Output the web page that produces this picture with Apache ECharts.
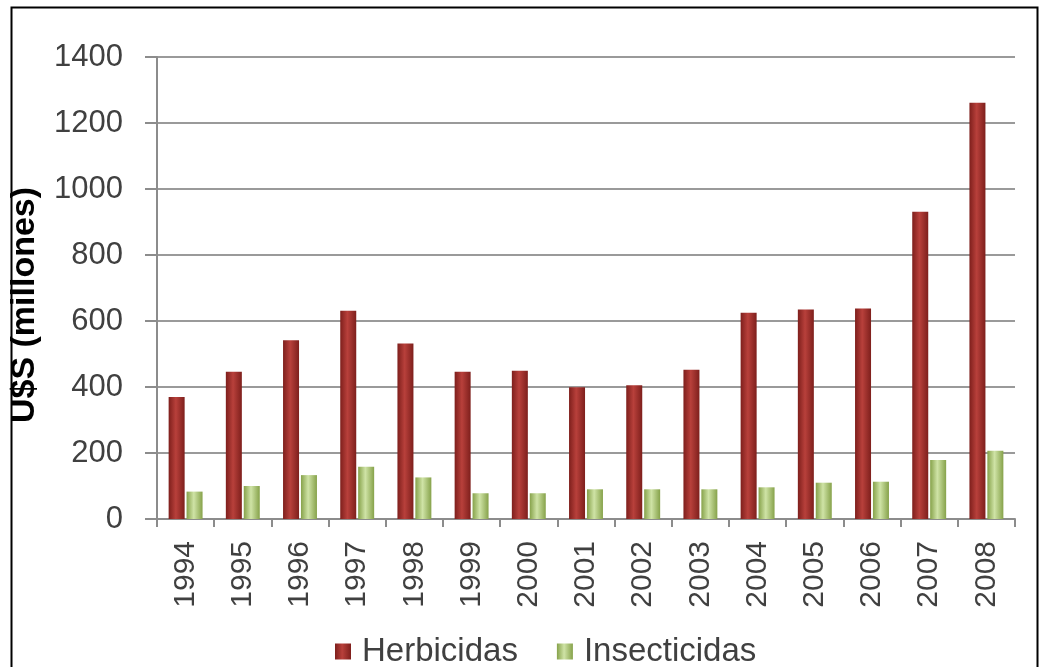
<!DOCTYPE html>
<html>
<head>
<meta charset="utf-8">
<script src="https://cdn.jsdelivr.net/npm/echarts@6/dist/echarts.min.js"></script>
<style>
html,body{margin:0;padding:0;background:#fff;}
#c{width:1042px;height:667px;}
</style>
</head>
<body>
<div id="c"></div>
<script>
const years = ['1994','1995','1996','1997','1998','1999','2000','2001','2002','2003','2004','2005','2006','2007','2008'];
const herbicidas = [370, 446, 542, 631, 532, 446, 449, 399, 405, 452, 625, 635, 638, 931, 1261];
const insecticidas = [83, 100, 133, 158, 126, 78, 78, 90, 90, 90, 96, 110, 113, 179, 207];
const yTicks = [0, 200, 400, 600, 800, 1000, 1200, 1400];

const chart = echarts.init(document.getElementById('c'));
const font = 'Liberation Sans, Arial, sans-serif';
function grad(edge, mid){
  return new echarts.graphic.LinearGradient(0,0,1,0,[
    {offset:0,color:edge},{offset:0.45,color:mid},{offset:1,color:edge}
  ]);
}
chart.setOption({
  animation:false,
  backgroundColor:'#fff',
  textStyle:{fontFamily:font},
  graphic:[{
    type:'rect', left:9, top:5, shape:{width:1026, height:670},
    style:{fill:null, stroke:'#000', lineWidth:2}, silent:true
  }],
  grid:{left:155, right:27, top:57, bottom:148},
  legend:{
    top:635, left:335, padding:0, itemWidth:16, itemHeight:16, itemGap:39,
    icon:'rect',
    textStyle:{fontSize:33, color:'#404040', fontFamily:font, padding:[0,0,0,6]},
    data:['Herbicidas','Insecticidas']
  },
  xAxis:{
    type:'category', data:years,
    axisLine:{lineStyle:{color:'#8c8c8c', width:2}},
    axisTick:{show:true, length:8, lineStyle:{color:'#8c8c8c', width:2}},
    axisLabel:{rotate:90, fontSize:30, color:'#404040', margin:22, fontFamily:font}
  },
  yAxis:{
    type:'value', min:yTicks[0], max:yTicks[yTicks.length-1], interval:200,
    name:'U$S (millones)', nameLocation:'middle', nameGap:115, nameRotate:90,
    nameTextStyle:{fontSize:34, fontWeight:'bold', color:'#000', fontFamily:font, padding:[0,34,0,0]},
    axisLine:{show:true, lineStyle:{color:'#8c8c8c', width:2}},
    axisTick:{show:true, length:12, lineStyle:{color:'#8c8c8c', width:2}},
    axisLabel:{fontSize:31, color:'#404040', margin:34, fontFamily:font,
      formatter:function(v){return String(v);}},
    splitLine:{lineStyle:{color:'#9a9a9a', width:2}}
  },
  series:[
    {name:'Herbicidas', type:'bar', data:herbicidas, barWidth:16, barGap:'12%',
     itemStyle:{color:grad('#7e1f1c','#b8403b')}},
    {name:'Insecticidas', type:'bar', data:insecticidas, barWidth:16,
     itemStyle:{color:grad('#86a24a','#cfe3a6')}}
  ]
});
</script>
</body>
</html>
